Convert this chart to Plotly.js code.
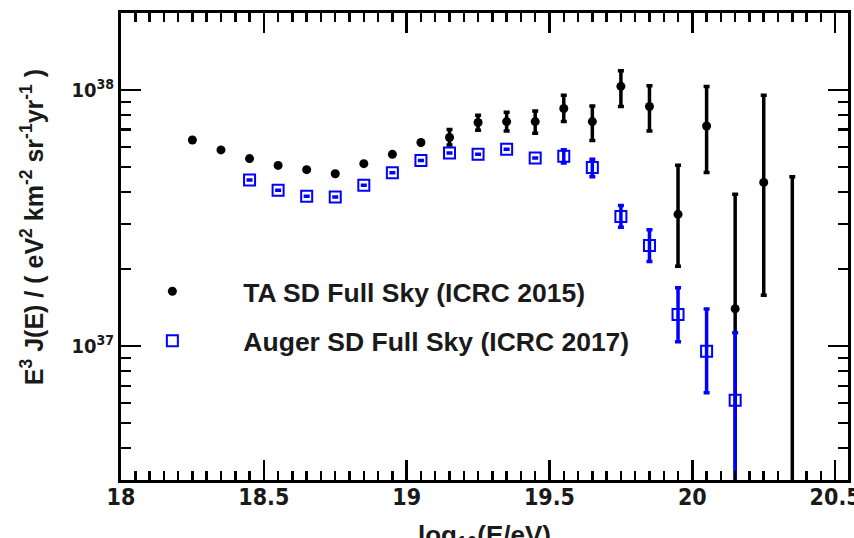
<!DOCTYPE html>
<html>
<head>
<meta charset="utf-8">
<script src="https://cdn.plot.ly/plotly-3.0.1.min.js"></script>
<style>
  html, body { margin: 0; padding: 0; background: #ffffff; }
  #chart { width: 854px; height: 538px; }
</style>
</head>
<body>
<div id="chart"></div>
<script>
// Energy bins, log10(E/eV)
const taLogE = [18.25, 18.35, 18.45, 18.55, 18.65, 18.75, 18.85, 18.95, 19.05, 19.15,
                19.25, 19.35, 19.45, 19.55, 19.65, 19.75, 19.85, 19.95, 20.05, 20.15,
                20.25, 20.35];
// TA SD full-sky E^3 J(E) in eV^2 km^-2 sr^-1 yr^-1
const taFlux = [6.38e37, 5.84e37, 5.40e37, 5.08e37, 4.89e37, 4.71e37, 5.16e37, 5.61e37, 6.24e37, 6.53e37,
                7.47e37, 7.53e37, 7.53e37, 8.47e37, 7.53e37, 1.034e38, 8.63e37, 3.27e37, 7.24e37, 1.40e37,
                4.36e37, 1.0e36];
const taErrUp = [0, 0, 0, 0, 0, 0, 0, 0, 0, 0.48e37,
                 0.50e37, 0.66e37, 0.75e37, 1.07e37, 1.14e37, 1.56e37, 1.76e37, 1.82e37, 3.09e37, 2.52e37,
                 5.18e37, 4.49e37];
const taErrDown = [0, 0, 0, 0, 0, 0, 0, 0, 0, 0.43e37,
                   0.50e37, 0.61e37, 0.75e37, 0.94e37, 1.17e37, 1.71e37, 1.71e37, 1.22e37, 2.48e37, 1.40e37,
                   2.78e37, 1.0e36];

const augerLogE = [18.45, 18.55, 18.65, 18.75, 18.85, 18.95, 19.05, 19.15, 19.25, 19.35,
                   19.45, 19.55, 19.65, 19.75, 19.85, 19.95, 20.05, 20.15];
// Auger SD full-sky E^3 J(E)
const augerFlux = [4.45e37, 4.06e37, 3.85e37, 3.82e37, 4.25e37, 4.75e37, 5.31e37, 5.68e37, 5.61e37, 5.87e37,
                   5.43e37, 5.52e37, 4.98e37, 3.21e37, 2.47e37, 1.33e37, 9.55e36, 6.14e36];
const augerErrUp = [0, 0, 0, 0, 0, 0, 0, 0, 0, 0,
                    0, 0.33e37, 0.39e37, 0.33e37, 0.38e37, 0.36e37, 4.40e36, 5.13e36];
const augerErrDown = [0, 0, 0, 0, 0, 0, 0, 0, 0, 0,
                      0, 0.33e37, 0.39e37, 0.30e37, 0.33e37, 0.29e37, 2.97e36, 6.14e36];

const seriesNames = ['TA SD Full Sky (ICRC 2015)', 'Auger SD Full Sky (ICRC 2017)'];

// Axis tick definitions
const yMajorTicks = [1e37, 1e38];
const yMajorText = ['10<sup>37</sup>', '10<sup>38</sup>'];
const yMinorTicks = [3e36, 4e36, 5e36, 6e36, 7e36, 8e36, 9e36,
                     2e37, 3e37, 4e37, 5e37, 6e37, 7e37, 8e37, 9e37, 2e38];

const ink = '#1a1a1a';
const boldFont = 'Liberation Sans, Arial, sans-serif';
const narrowFont = 'Liberation Sans Narrow, DejaVu Sans Condensed, Arial Narrow, Liberation Sans, sans-serif';

const traces = [
  {
    x: taLogE, y: taFlux, type: 'scatter', mode: 'markers',
    name: seriesNames[0], legendgroup: 'ta',
    marker: { symbol: 'circle', size: 9, color: '#000000' },
    error_y: { type: 'data', symmetric: false, array: taErrUp, arrayminus: taErrDown,
               color: '#000000', thickness: 3.5, width: 3 }
  },
  {
    x: augerLogE, y: augerFlux, type: 'scatter', mode: 'markers',
    name: seriesNames[1], legendgroup: 'auger',
    marker: { symbol: 'square-open', size: 11, color: '#0000ff', line: { width: 2, color: '#0000ff' } },
    error_y: { type: 'data', symmetric: false, array: augerErrUp, arrayminus: augerErrDown,
               color: '#0000ff', thickness: 3.5, width: 3 }
  }
];

const layout = {
  width: 854, height: 538,
  margin: { l: 121, r: 6, t: 13, b: 58 },
  paper_bgcolor: '#ffffff', plot_bgcolor: '#ffffff',
  showlegend: true,
  legend: {
    x: -0.027, y: 0.455, xanchor: 'left', yanchor: 'top',
    bgcolor: 'rgba(0,0,0,0)', borderwidth: 0,
    itemwidth: 132, tracegroupgap: 12, traceorder: 'grouped',
    font: { family: boldFont, size: 26.5, color: ink, weight: 'bold' }
  },
  xaxis: {
    type: 'linear', range: [18, 20.545],
    tick0: 18, dtick: 0.5,
    ticks: 'inside', ticklen: 20, tickwidth: 2.5, tickcolor: '#000',
    minor: { dtick: 0.05, ticks: 'inside', ticklen: 9, tickwidth: 2.5, tickcolor: '#000', showgrid: false },
    showline: true, linewidth: 3, linecolor: '#000', mirror: 'allticks',
    showgrid: false, zeroline: false,
    ticklabeloverflow: 'allow', ticklabelstandoff: -6,
    tickfont: { family: narrowFont, size: 23, color: ink, weight: 'bold' }
  },
  yaxis: {
    type: 'log', range: [Math.log10(3e36), Math.log10(2e38)],
    tickmode: 'array', tickvals: yMajorTicks, ticktext: yMajorText,
    ticks: 'inside', ticklen: 20, tickwidth: 2.5, tickcolor: '#000',
    minor: { tickmode: 'array', tickvals: yMinorTicks, ticks: 'inside', ticklen: 10,
             tickwidth: 2.5, tickcolor: '#000', showgrid: false },
    showline: true, linewidth: 3, linecolor: '#000', mirror: 'allticks',
    showgrid: false, zeroline: false,
    tickfont: { family: narrowFont, size: 20, color: ink, weight: 'bold' }
  },
  annotations: [
    {
      // y-axis title
      xref: 'paper', yref: 'paper', x: -0.122, y: 0.542,
      xanchor: 'center', yanchor: 'middle', textangle: -90, showarrow: false,
      text: 'E<sup>3</sup> J(E) / ( eV<sup>2</sup> km<sup>-2</sup> sr<sup>-1</sup>yr<sup>-1</sup> )',
      font: { family: boldFont, size: 25, color: ink, weight: 'bold' }
    },
    {
      // x-axis title, set low under the tick labels
      xref: 'paper', yref: 'paper', x: 0.5, y: -0.082,
      xanchor: 'center', yanchor: 'top', showarrow: false,
      text: 'log<sub>10</sub>(E/eV)',
      font: { family: boldFont, size: 26, color: ink, weight: 'bold' }
    }
  ]
};

Plotly.newPlot('chart', traces, layout, { displayModeBar: false, staticPlot: true });
</script>
</body>
</html>
